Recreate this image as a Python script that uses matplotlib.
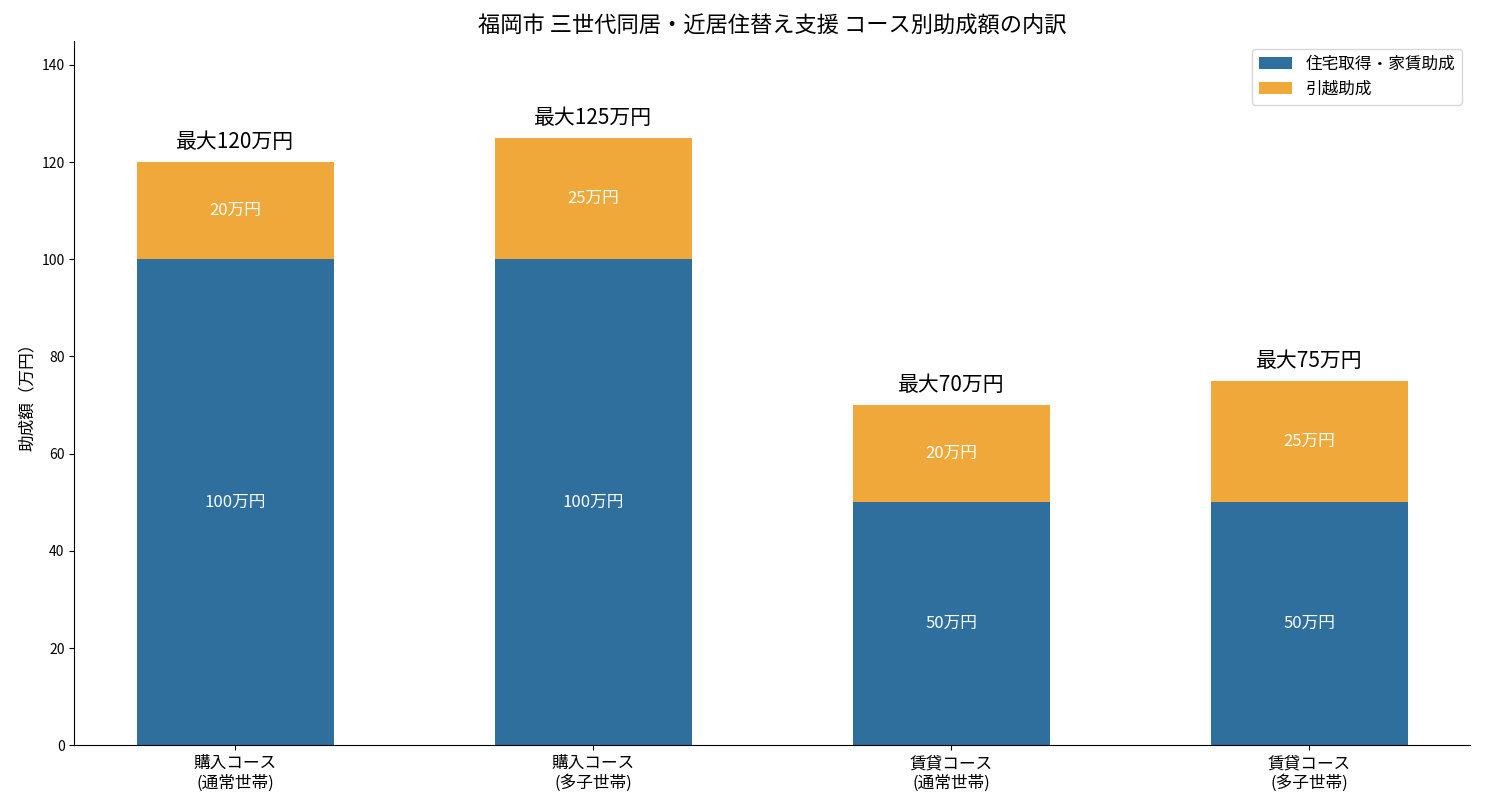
import numpy as np
import matplotlib
matplotlib.use("Agg")
from matplotlib import pyplot as plt

plt.rcParams['font.family'] = ['Noto Sans CJK JP', 'DejaVu Sans']

courses = ["購入コース\n(通常世帯)", "購入コース\n(多子世帯)", "賃貸コース\n(通常世帯)", "賃貸コース\n(多子世帯)"]
housing = [100, 100, 50, 50]
moving = [20, 25, 20, 25]

c_blue = "#2e6f9e"
c_orange = "#f0a83b"

fig, ax = plt.subplots(figsize=(14.85, 8.1), dpi=100)

x = np.arange(len(courses))
w = 0.55
b1 = ax.bar(x, housing, w, color=c_blue, label="住宅取得・家賃助成")
b2 = ax.bar(x, moving, w, bottom=housing, color=c_orange, label="引越助成")

for i in range(len(courses)):
    ax.text(x[i], housing[i] / 2, f"{housing[i]}万円", ha="center", va="center",
            color="white", fontsize=12)
    ax.text(x[i], housing[i] + moving[i] / 2, f"{moving[i]}万円", ha="center", va="center",
            color="white", fontsize=12)
    total = housing[i] + moving[i]
    ax.text(x[i], total + 1.8, f"最大{total}万円", ha="center", va="bottom", fontsize=15)

ax.set_xticks(x)
ax.set_xticklabels(courses, fontsize=12)
ax.tick_params(axis='y', labelsize=10)
ax.set_ylim(0, 145)
ax.set_xlim(-0.45, 3.45)
ax.set_ylabel("助成額（万円）", fontsize=12)
ax.set_title("福岡市 三世代同居・近居住替え支援 コース別助成額の内訳", fontsize=16)
ax.spines['top'].set_visible(False)
ax.spines['right'].set_visible(False)
ax.legend(loc="upper right", fontsize=12)

fig.subplots_adjust(left=0.05, right=0.99, top=0.95, bottom=0.08)
fig.savefig("out.png")
